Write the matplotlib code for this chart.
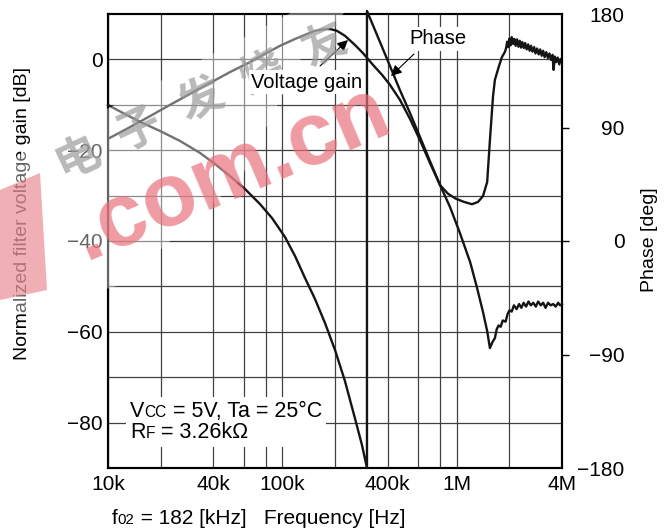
import numpy as np
import matplotlib
matplotlib.use("Agg")
import matplotlib.pyplot as plt
from matplotlib.offsetbox import TextArea, HPacker, VPacker, AnnotationBbox
from matplotlib.patches import Polygon

plt.rcParams["font.family"] = ["Liberation Sans", "DejaVu Sans"]

# --- data ---
# voltage gain curve: frequency [Hz], normalized gain [dB]
gain_freq = [10e3, 13.4e3, 17.4e3, 22.7e3, 29.5e3, 38.4e3, 50e3, 65.1e3, 79.4e3, 96.8e3,
             118e3, 134.6e3, 153.6e3, 170.8e3, 187e3, 205e3, 228e3, 260e3, 289e3, 330e3,
             372e3, 413e3, 471e3, 538e3, 614e3, 700e3, 800e3, 889e3, 987e3, 1.10e6,
             1.22e6, 1.32e6, 1.41e6, 1.49e6, 1.545e6, 1.61e6, 1.65e6, 1.74e6, 1.81e6, 1.88e6,
             1.91e6, 1.94e6, 1.97e6, 2.00e6, 2.03e6, 2.06e6, 2.10e6, 2.13e6, 2.17e6, 2.21e6,
             2.25e6, 2.29e6, 2.33e6, 2.37e6, 2.42e6, 2.46e6, 2.51e6, 2.56e6, 2.61e6, 2.66e6,
             2.71e6, 2.77e6, 2.82e6, 2.88e6, 2.94e6, 3.00e6, 3.06e6, 3.12e6, 3.18e6, 3.25e6,
             3.32e6, 3.39e6, 3.46e6, 3.53e6, 3.58e6, 3.64e6, 3.71e6, 3.78e6, 3.86e6, 3.93e6,
             4.00e6]
gain_db = [-17.5, -14.9, -12.5, -10.0, -7.6, -5.2, -2.8, -0.6, 1.2, 3.0,
           4.5, 5.4, 6.3, 6.6, 6.7, 6.3, 5.2, 3.2, 1.4, -1.2,
           -3.4, -5.6, -8.9, -13.1, -17.8, -22.8, -27.7, -29.6, -30.7, -31.4,
           -31.9, -31.4, -30.1, -27.0, -17.8, -8.1, -4.5, -1.5, 0.5, 1.6,
           2.4, 3.9, 2.7, 4.6, 3.1, 4.9, 3.4, 4.5, 3.0, 4.4,
           2.8, 4.1, 2.6, 3.8, 2.5, 3.6, 2.2, 3.3, 1.9, 3.0,
           1.7, 2.7, 1.3, 2.4, 1.1, 2.2, 0.8, 1.9, 0.5, 1.6,
           0.3, 1.3, -0.1, 1.0, -2.3, 0.6, -0.6, 0.4, -1.1, 0.1,
           -0.5]

# phase curve: frequency [Hz], phase [deg] (wraps at ~305 kHz)
phase_freq = [10e3, 12.5e3, 15.3e3, 19.9e3, 25.9e3, 33.7e3, 41e3, 50e3, 61e3, 74.3e3,
              87.1e3, 103.3e3, 118e3, 134.6e3, 153.6e3, 175.2e3, 200e3, 228e3, 260e3, 285.5e3,
              305e3, 305e3, 362e3, 413e3, 471e3, 538e3, 614e3, 700e3, 800e3, 912e3,
              1.04e6, 1.19e6, 1.30e6, 1.41e6, 1.49e6, 1.545e6,
              1.60e6, 1.65e6, 1.69e6, 1.73e6, 1.78e6, 1.83e6, 1.90e6, 1.95e6, 2.00e6,
              2.06e6, 2.12e6, 2.20e6, 2.27e6, 2.34e6, 2.41e6, 2.49e6, 2.57e6, 2.65e6,
              2.74e6, 2.83e6, 2.92e6, 3.02e6, 3.12e6, 3.22e6, 3.33e6, 3.44e6, 3.56e6,
              3.68e6, 3.80e6, 3.90e6, 4.00e6]
phase_deg = [107.8, 100.7, 94.4, 87.2, 79.3, 69.8, 61.1, 51.5, 41.2, 29.3,
             18.2, 3.2, -11.9, -29.3, -46.0, -65.0, -86.4, -111.0, -140.4, -161.8,
             -180.0, 182.4, 157.8, 138.8, 119.7, 101.5, 82.5, 63.4, 44.4, 27.0,
             6.3, -16.7, -36.5, -56.3, -71.4, -84.9,
             -80.0, -77.0, -70.0, -67.0, -68.0, -63.0, -64.0, -58.0, -55.0,
             -56.0, -51.0, -54.0, -50.0, -53.0, -49.0, -52.0, -48.0, -51.0,
             -49.0, -52.0, -48.0, -51.0, -49.0, -53.0, -49.0, -51.0, -50.0,
             -52.0, -49.0, -51.0, -50.0]

x_ticks = [10e3, 40e3, 100e3, 400e3, 1e6, 4e6]
x_tick_labels = ["10k", "40k", "100k", "400k", "1M", "4M"]
x_grid = [20e3, 60e3, 80e3, 200e3, 600e3, 800e3, 2e6]
gain_ticks = [0, -20, -40, -60, -80]
gain_grid = [-10, -30, -50, -70]
phase_ticks = [-180, -90, 0, 90, 180]

W, H = 670, 531
FS = 15
fig = plt.figure(figsize=(W / 100, H / 100), dpi=100)
ax = fig.add_axes([108 / W, 1 - 468 / H, (562 - 108) / W, (468 - 14) / H])

ax.set_xscale("log")
ax.set_xlim(10e3, 4e6)
ax.set_ylim(-90, 10)
ax.set_xticks(x_ticks)
ax.set_xticklabels(x_tick_labels)
ax.set_xticks(x_grid, minor=True)
ax.xaxis.set_minor_formatter(matplotlib.ticker.NullFormatter())
ax.set_yticks(gain_ticks)
ax.set_yticklabels(["0", "\u221220", "\u221240", "\u221260", "\u221280"])
ax.set_yticks(gain_grid, minor=True)
ax.grid(True, which="both", color="#404040", linewidth=0.9)
ax.tick_params(which="both", length=0, labelsize=FS)
ax.tick_params(axis="x", pad=5)
ax.tick_params(axis="y", pad=4)
for s in ax.spines.values():
    s.set_linewidth(1.5)

ax.plot(gain_freq, gain_db, color="#151515", linewidth=1.7, zorder=3)

# phase on right axis
ax2 = ax.twinx()
ax2.set_ylim(-180, 180)
ax2.set_yticks(phase_ticks)
ax2.set_yticklabels(["\u2212180", "\u221290", "0", "90", "180"], ha="right")
ax2.tick_params(axis="y", direction="out", length=5, width=1, labelsize=FS, pad=40)
for i in (0, 4):
    ax2.yaxis.get_major_ticks()[i].tick2line.set_visible(False)
for s in ax2.spines.values():
    s.set_linewidth(1.5)
ax2.plot(phase_freq, phase_deg, color="#151515", linewidth=1.7, zorder=3, clip_on=False)

# axis labels
fig.text(23 / W, 1 - 213 / H, "Normalized filter voltage gain [dB]", rotation=90,
         ha="center", va="center", fontsize=14)
fig.text(650 / W, 1 - 240 / H, "Phase [deg]", rotation=90,
         ha="center", va="center", fontsize=14)


def mixed(parts, size=FS):
    areas = [TextArea(t, textprops=dict(fontsize=size * k, color="black")) for t, k in parts]
    return HPacker(children=areas, align="baseline", pad=0, sep=0)


# bottom label
bottom = mixed([("f", 1), ("02", 0.72), (" = 182 [kHz]   Frequency [Hz]", 1)])
fig.add_artist(AnnotationBbox(bottom, (112, 3), xycoords="figure pixels",
                              box_alignment=(0, 0), frameon=False))

# conditions box
cond = VPacker(children=[mixed([("V", 1), ("CC", 0.72), (" = 5V, Ta = 25\u00b0C", 1)], 15.5),
                         mixed([("R", 1), ("F", 0.72), (" = 3.26k\u03a9", 1)], 15.5)],
               align="left", pad=0, sep=0)
fig.add_artist(AnnotationBbox(cond, (130, H - 443), xycoords="figure pixels",
                              box_alignment=(0, 0), frameon=True, pad=0.3,
                              bboxprops=dict(facecolor="white", edgecolor="none")))

# site watermark (halo, logo bar, characters)
fig.patches.append(Polygon([(0, 1 - 165 / H), (300 / W, 1 - 8 / H), (345 / W, 1 - 12 / H),
                            (300 / W, 1 - 60 / H), (240 / W, 1 - 180 / H), (120 / W, 1 - 285 / H),
                            (0, 1 - 320 / H)],
                           closed=True, transform=fig.transFigure, facecolor="white",
                           edgecolor="none", alpha=0.4, zorder=6))
fig.patches.append(Polygon([(0, 1 - 190 / H), (40 / W, 1 - 173 / H), (47 / W, 1 - 290 / H), (0, 1 - 300 / H)],
                           closed=True, transform=fig.transFigure, facecolor="#e57b85",
                           edgecolor="none", alpha=0.6, zorder=7))
for i, ch in enumerate("电子发烧友"):
    cx, cy = 77 + 62 * i, 157 - 28 * i
    fig.text(cx / W, 1 - cy / H, ch, family=["Noto Sans CJK SC", "DejaVu Sans"],
             fontsize=32, fontweight="bold", color="#9a9a9a", alpha=0.7,
             rotation=25, ha="center", va="center", zorder=7)
fig.text(86 / W, 1 - 260 / H, ".com.cn", fontsize=64, fontweight="bold",
         color="#e8707c", alpha=0.7, rotation=23, rotation_mode="anchor",
         ha="left", va="baseline", zorder=7)

# curve labels with arrows
fig.text(307 / W, 1 - 82 / H, "Voltage gain", ha="center", va="center", fontsize=14.5,
         bbox=dict(facecolor="white", edgecolor="none", pad=2), zorder=8)
fig.text(438 / W, 1 - 39 / H, "Phase", ha="center", va="center", fontsize=14.5,
         bbox=dict(facecolor="white", edgecolor="none", pad=2), zorder=8)
arrow = dict(arrowstyle="-|>", color="black", lw=0.8, mutation_scale=16, shrinkA=0, shrinkB=0)
ax2.annotate("", xy=(348, H - 40), xytext=(320, H - 66), xycoords="figure pixels",
             textcoords="figure pixels", arrowprops=arrow, zorder=9)
ax2.annotate("", xy=(391, H - 76), xytext=(414, H - 54), xycoords="figure pixels",
             textcoords="figure pixels", arrowprops=arrow, zorder=9)

fig.savefig("out.png", dpi=100)
